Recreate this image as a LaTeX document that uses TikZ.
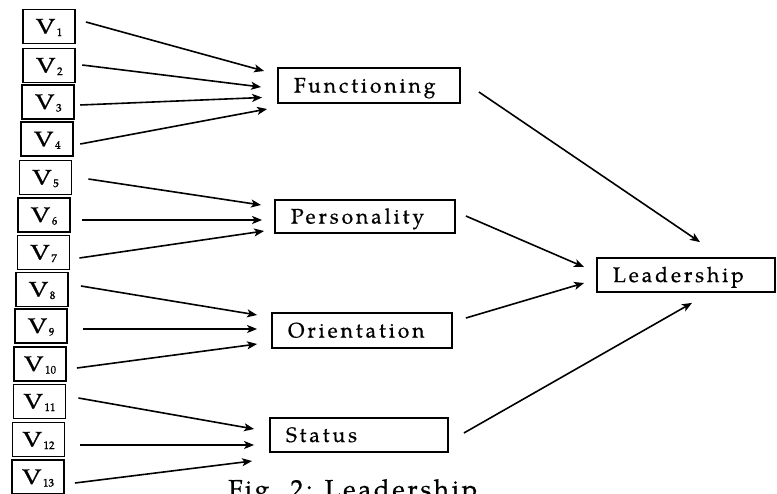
\documentclass[tikz,border=0pt]{standalone}
\usepackage{fontspec}
\newfontfamily\lblfont[LetterSpace=14,FakeBold=0.6]{texgyrepagella-regular.otf}
\newfontfamily\capfont[LetterSpace=10,FakeBold=0.6]{texgyrepagella-regular.otf}
\newfontfamily\vfont[FakeBold=0.8]{texgyrepagella-regular.otf}
\usetikzlibrary{arrows.meta,calc}
\newcommand{\vlab}[1]{{\vfont\fontsize{21}{21}\selectfont\scalebox{1.3}[1]{V}}\hspace{1.5pt}\raisebox{-2.5pt}{\vfont\fontsize{11}{11}\selectfont #1}}
\tikzset{
  vbox/.style={draw, line width=1.9pt, minimum width=52pt, minimum height=34pt, inner sep=0pt, text height=14pt, text depth=0pt},
  cbox/.style={draw, line width=1.8pt, inner xsep=16pt, inner ysep=0pt, align=left, text height=14pt, text depth=0pt, font=\lblfont\fontsize{21}{22}\selectfont},
  arr/.style={line width=1.6pt, -{Stealth[length=10pt,width=8pt,inset=2.5pt]}},
  captxt/.style={font=\capfont\fontsize{26}{26}\selectfont, inner sep=0pt, anchor=base west}
}
\begin{document}
\begin{tikzpicture}[x=1pt,y=-1pt]
\useasboundingbox (0,0) rectangle (777,493);
\begin{scope}
\clip (0,0) rectangle (777,493);
% variable boxes
\node[vbox] (v1)  at (49,26.5)  {\vlab{1}};
\node[vbox] (v2)  at (49.3,65.5) {\vlab{2}};
\node[vbox] (v3)  at (48.3,102) {\vlab{3}};
\node[vbox] (v4)  at (47.3,139.3) {\vlab{4}};
\node[vbox] (v5)  at (45.5,177.5) {\vlab{5}};
\node[vbox] (v6)  at (44,215) {\vlab{6}};
\node[vbox] (v7)  at (43.5,252.5) {\vlab{7}};
\node[vbox] (v8)  at (42,289.5) {\vlab{8}};
\node[vbox] (v9)  at (41,326) {\vlab{9}};
\node[vbox] (v10) at (40,364) {\vlab{10}};
\node[vbox] (v11) at (39.5,401.5) {\vlab{11}};
\node[vbox] (v12) at (38.5,439.5) {\vlab{12}};
\node[vbox] (v13) at (38,477) {\vlab{13}};
% factor boxes
\node[cbox, text width=150pt, minimum height=35pt] (F) at (369,85.5) {Functioning};
\node[cbox, text width=148pt, minimum height=33pt] (P) at (365,216.5) {Personality};
\node[cbox, text width=148pt, minimum height=35pt] (O) at (362,330.5) {Orientation};
\node[cbox, text width=146pt, minimum height=34pt] (S) at (359,435) {Status};
\node[cbox, text width=146pt, minimum height=34pt] (L) at (686,275) {Leadership};
% caption (cut off at the bottom)
\node[captxt] (cap) at (228,498) {Fig. 2: Leadership};
% arrows to Functioning
\draw[arr] ($(v1.east)+(10,-4.5)$) -- ($(F.west)+(-13,-14.5)$);
\draw[arr] ($(v2.east)+(6,-0.5)$) -- ($(F.west)+(-16,1.5)$);
\draw[arr] ($(v3.east)+(5,3)$) -- ($(F.west)+(-15,12)$);
\draw[arr] ($(v4.east)+(6,4.7)$) -- ($(F.west)+(-10,23.5)$);
% arrows to Personality
\draw[arr] ($(v5.east)+(16,1.5)$) -- ($(P.west)+(-13,-11.5)$);
\draw[arr] ($(v6.east)+(11,5)$) -- ($(P.west)+(-12,3.5)$);
\draw[arr] ($(v7.east)+(9,5.5)$) -- ($(P.west)+(-10,14.5)$);
% arrows to Orientation
\draw[arr] ($(v8.east)+(12,-3.5)$) -- ($(O.west)+(-14,-15.5)$);
\draw[arr] ($(v9.east)+(15,3)$) -- ($(O.west)+(-14,-1.5)$);
\draw[arr] ($(v10.east)+(10,4)$) -- ($(O.west)+(-14,13.5)$);
% arrows to Status
\draw[arr] ($(v11.east)+(12,-3.5)$) -- ($(S.west)+(-15,-6)$);
\draw[arr] ($(v12.east)+(15,5.5)$) -- ($(S.west)+(-15,10)$);
\draw[arr] ($(v13.east)+(10,6)$) -- ($(S.west)+(-17,26)$);
% arrows to Leadership
\draw[arr] ($(F.east)+(18,6.5)$) -- ($(L.north)+(14,-15)$);
\draw[arr] ($(P.east)+(10,-0.5)$) -- ($(L.west)+(-12,-8)$);
\draw[arr] ($(O.east)+(13,-12.5)$) -- ($(L.west)+(-12,8)$);
\draw[arr] ($(S.east)+(15,-2)$) -- ($(L.south)+(6,10)$);
\end{scope}
\end{tikzpicture}
\end{document}
